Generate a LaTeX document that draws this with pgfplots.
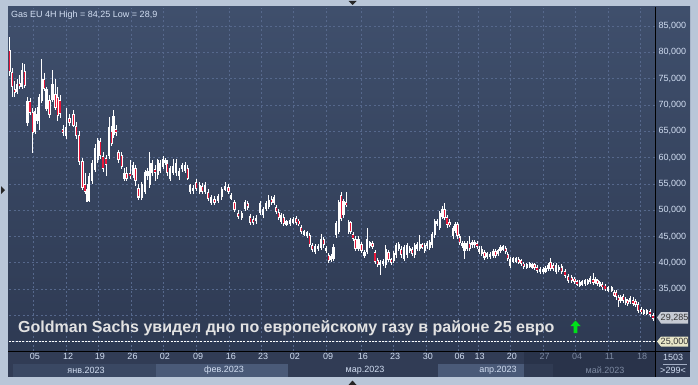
\documentclass[border=0pt]{standalone}
\usepackage{fontspec}
\setmainfont{Liberation Sans}
\usepackage{pgfplots}
\pgfplotsset{compat=1.18}
\usepackage{pgfplotstable}
\definecolor{framec}{HTML}{B9C6D8}
\definecolor{bgtop}{HTML}{3F4F6C}
\definecolor{bgbot}{HTML}{2E3A53}
\definecolor{datebg}{HTML}{313C55}
\definecolor{gridc}{HTML}{56688C}
\definecolor{candred}{HTML}{E8173A}
\definecolor{lbl}{HTML}{D2DEF2}
\definecolor{dimc}{HTML}{7D8AA2}
\definecolor{bandA}{HTML}{3A4863}
\definecolor{bandB}{HTML}{4A5A78}
\definecolor{darkc}{HTML}{29334A}
\definecolor{titlec}{HTML}{E2E2E2}
\definecolor{boxgray}{HTML}{C6CBD4}
\definecolor{boxcream}{HTML}{E8E6C8}
\definecolor{arrowg}{HTML}{00E01A}
\pgfplotstableread{
x o h l c
9.5 80.5 83.0 75.5 76.2
12.2 76.2 77.0 71.5 73.4
14.7 73.0 74.6 71.5 72.4
17.2 72.4 75.0 72.0 74.0
19.7 74.0 75.6 73.0 73.6
22.0 73.5 78.0 73.0 76.7
24.8 76.5 77.8 73.3 73.6
27.4 66.6 71.5 66.0 70.7
30.0 70.7 71.3 68.0 68.4
32.7 68.7 69.5 60.9 64.7
35.3 64.8 69.5 64.5 68.8
37.0 67.0 69.6 66.4 68.2
39.2 67.0 72.0 65.3 71.5
41.7 70.8 78.7 70.3 75.0
44.1 75.0 76.0 72.6 73.0
46.4 69.2 73.5 68.8 73.0
49.6 70.9 71.8 67.6 68.0
52.6 71.0 76.6 70.5 74.0
55.4 72.0 75.0 69.0 69.5
57.7 71.5 73.5 67.0 67.8
60.0 71.0 71.8 67.5 68.2
62.9 65.5 66.2 64.0 64.7
66.0 64.0 69.5 63.6 65.8
69.6 67.5 68.2 66.0 66.6
73.4 68.2 69.0 65.8 66.0
76.3 66.0 66.8 63.5 64.0
79.3 64.2 65.0 58.5 59.1
82.6 59.3 60.0 53.8 54.2
85.0 55.0 57.0 53.0 53.5
87.0 51.6 55.0 51.5 54.0
89.3 51.8 57.0 51.5 56.4
92.0 55.5 59.5 55.0 59.0
95.1 57.7 62.5 57.3 61.8
97.7 59.6 63.8 59.0 63.4
100.2 63.2 63.8 59.8 60.3
103.0 60.3 61.0 57.3 57.8
106.0 60.0 60.5 56.5 58.5
109.3 60.3 67.7 59.8 65.8
111.8 65.0 66.0 62.2 62.6
113.5 64.3 69.0 63.8 67.8
116.0 65.5 66.2 64.0 64.6
118.5 61.0 61.5 59.0 59.5
121.8 60.4 61.0 57.8 58.2
124.5 56.0 58.0 55.5 57.0
126.8 57.0 58.2 55.5 56.0
130.0 57.0 59.5 56.0 56.5
133.0 56.6 59.2 56.2 58.5
135.5 58.0 58.5 54.5 55.5
138.6 54.3 55.0 51.9 52.4
141.7 52.4 55.4 52.0 55.0
145.0 53.4 57.6 53.0 57.2
147.5 56.5 58.0 55.8 57.5
149.7 54.7 61.0 54.3 59.0
152.2 57.0 59.5 56.4 59.0
155.0 57.8 58.5 55.5 57.0
157.8 56.6 59.8 56.0 59.5
160.3 57.5 59.5 57.0 59.0
163.0 58.2 60.2 57.8 59.8
165.4 59.0 60.0 58.5 59.5
167.2 59.0 59.6 56.5 57.0
170.0 56.0 58.4 55.5 58.0
173.3 57.0 59.8 56.6 58.3
176.3 57.0 59.7 56.4 59.0
179.3 56.5 58.0 55.8 57.5
182.2 57.8 59.0 57.3 58.6
185.0 57.5 59.2 57.0 58.6
187.8 58.0 58.6 55.7 56.0
190.3 53.5 55.0 53.0 54.7
193.3 53.6 54.8 53.0 54.3
196.3 55.4 56.0 53.6 54.0
199.7 53.5 55.3 53.0 54.8
202.2 54.6 55.2 53.0 53.5
205.0 53.5 55.3 53.0 54.8
208.3 53.4 54.0 51.8 52.2
211.0 51.4 52.9 51.0 52.5
214.5 52.0 52.6 51.0 51.4
218.3 51.8 53.0 51.3 52.6
221.7 52.5 54.4 52.0 54.0
225.0 54.0 55.3 53.6 54.5
228.5 54.4 55.0 53.0 53.4
231.3 52.2 53.2 51.9 52.8
234.5 51.5 52.0 49.6 50.0
238.3 49.4 50.0 48.4 48.8
241.7 48.6 49.8 48.2 49.4
245.0 50.3 52.0 49.8 51.5
247.8 51.3 51.8 50.0 50.5
250.3 48.8 49.3 47.2 47.6
253.3 48.2 48.8 47.2 47.6
256.3 47.9 49.0 47.4 48.5
260.0 49.4 51.7 49.0 51.3
263.3 49.0 50.6 48.6 50.2
266.3 50.3 51.7 49.9 51.3
268.8 50.6 52.8 50.2 51.9
271.7 52.2 52.6 50.9 51.3
274.2 51.3 52.9 51.0 52.5
276.3 50.6 51.0 49.3 49.7
278.8 49.7 50.2 48.1 48.5
281.3 47.8 49.5 47.4 49.1
283.8 48.7 49.2 47.0 47.4
286.6 47.4 48.2 47.0 47.8
290.0 47.4 48.5 47.0 48.1
293.3 47.7 48.7 47.3 48.3
296.3 48.5 48.9 47.2 47.6
298.8 48.0 48.4 46.9 47.3
301.3 46.8 47.2 45.4 45.8
304.2 45.5 46.2 45.1 45.8
307.0 45.2 46.1 44.8 45.7
309.7 45.2 45.6 43.0 43.4
312.2 43.4 43.8 42.0 42.4
315.0 42.1 43.6 41.7 43.2
318.3 42.6 43.6 42.2 43.2
321.3 42.8 45.5 42.4 44.5
323.8 44.5 44.9 42.9 43.3
326.3 42.2 43.2 41.8 42.8
328.8 41.4 41.8 40.0 40.4
331.2 40.6 41.7 40.2 41.3
333.6 40.8 43.5 40.4 43.0
336.0 45.2 47.9 44.8 47.5
338.8 45.8 51.9 45.4 51.5
341.2 52.8 53.4 48.0 48.4
343.6 49.0 52.2 48.6 51.8
346.3 51.5 53.4 50.6 51.0
348.8 45.8 48.1 45.4 47.7
350.8 47.7 48.0 45.4 45.8
353.0 45.5 45.9 44.2 44.6
355.6 44.6 45.0 42.3 42.7
358.5 42.7 45.0 42.3 44.6
361.6 43.6 44.0 41.9 42.3
364.5 41.4 42.4 41.0 42.0
367.0 42.0 46.6 41.6 44.6
369.7 43.3 44.2 42.9 43.8
372.4 43.8 44.2 42.6 43.0
375.0 42.0 42.4 39.7 40.1
377.7 40.5 40.9 39.2 39.6
380.3 39.6 40.5 37.6 40.1
383.0 39.8 40.7 39.4 40.3
385.7 39.5 43.4 39.1 42.7
388.5 42.0 42.4 40.1 40.5
391.2 40.6 41.0 39.6 40.0
393.7 40.3 42.2 39.9 41.8
396.3 41.4 43.7 41.0 43.3
398.8 42.7 44.0 42.3 43.6
401.3 42.7 43.1 41.0 41.4
404.2 40.8 43.4 40.4 43.0
407.0 41.4 43.7 41.0 43.3
409.7 42.3 43.2 41.9 42.8
412.2 42.6 43.0 41.3 41.7
414.7 41.4 43.7 41.0 43.3
417.2 42.6 44.0 42.2 43.6
419.7 42.6 45.2 42.2 43.6
422.2 43.4 43.8 42.6 43.0
424.7 42.3 43.7 41.9 43.3
427.2 43.1 44.2 42.7 43.8
429.7 42.9 44.4 42.5 44.0
432.2 43.3 45.9 42.9 45.5
434.7 45.2 48.4 44.8 48.0
437.2 47.3 48.4 46.9 48.0
439.7 46.6 49.8 46.2 49.4
442.2 48.7 50.8 48.3 50.3
444.5 50.3 51.4 48.1 48.5
447.0 48.7 49.1 46.7 47.1
449.5 47.7 48.3 46.8 47.2
453.0 45.0 47.0 44.6 46.6
455.5 46.0 47.8 45.6 47.4
457.5 47.4 47.8 44.6 45.0
459.7 45.0 45.4 43.3 43.7
462.2 43.2 44.1 42.8 43.7
464.5 42.3 44.1 40.8 43.7
467.0 42.6 44.1 42.2 43.7
469.7 43.7 45.0 42.2 42.6
472.2 43.3 44.4 42.9 44.0
474.5 43.3 44.4 42.9 44.0
477.0 43.7 44.1 42.6 43.0
479.2 42.0 43.1 41.6 42.7
481.7 41.7 43.1 41.3 42.7
484.5 42.0 42.4 40.6 41.0
487.0 41.2 42.1 40.8 41.7
490.0 41.2 42.0 40.8 41.6
493.0 41.3 42.7 40.9 42.3
495.5 42.3 42.7 40.9 41.3
498.0 41.7 42.7 41.3 42.3
500.5 42.3 43.3 41.9 43.0
503.3 42.6 43.4 42.2 43.0
505.8 42.8 43.2 41.6 42.0
507.8 41.6 42.0 40.3 40.7
510.3 39.4 41.1 39.0 40.7
513.3 40.4 41.1 40.0 40.7
516.3 40.4 41.1 40.0 40.7
518.8 40.7 41.1 39.7 40.1
521.2 40.4 40.8 39.4 39.8
523.7 39.8 40.2 38.8 39.2
526.7 39.2 40.0 38.8 39.6
529.7 39.4 40.1 39.0 39.7
532.2 39.2 40.0 38.8 39.6
534.5 39.6 40.0 38.7 39.1
537.0 39.1 39.5 38.1 38.5
540.0 38.3 39.2 37.9 38.8
543.0 38.3 39.2 37.9 38.8
545.5 38.4 39.3 38.0 38.9
548.0 38.9 40.0 38.5 39.6
550.5 40.1 41.0 38.5 38.9
553.3 39.6 40.0 38.4 38.8
556.3 38.2 39.9 37.8 39.5
558.8 38.6 39.6 38.2 39.2
561.7 39.3 39.7 37.9 38.3
565.0 38.5 38.9 37.1 37.5
568.3 37.4 37.8 36.2 36.6
571.7 37.2 37.6 36.2 36.6
574.5 36.9 37.3 36.0 36.4
577.0 36.4 36.8 35.6 36.0
579.7 35.7 36.7 35.3 36.3
582.2 35.9 36.7 35.5 36.3
585.0 36.0 37.0 35.6 36.6
587.8 36.2 37.0 35.8 36.6
590.3 36.4 37.4 36.0 37.0
593.0 37.0 38.0 35.8 36.2
595.5 36.3 37.2 35.9 36.8
597.5 36.6 37.0 35.6 36.0
599.7 35.8 36.5 35.4 36.1
602.2 36.0 36.4 34.9 35.3
605.0 35.6 36.0 34.6 35.0
608.3 34.8 35.5 34.4 35.1
611.7 34.8 35.5 34.4 35.1
614.2 34.4 34.8 33.4 33.8
616.3 34.4 34.8 33.0 33.4
618.8 33.4 33.8 31.5 32.8
620.8 32.8 33.8 32.4 33.4
623.3 33.6 34.0 32.4 32.8
625.8 32.4 33.4 32.0 33.0
627.8 32.8 33.2 31.8 32.2
630.3 32.6 33.6 32.2 33.2
633.0 33.0 33.4 31.8 32.2
635.5 32.8 33.2 31.6 32.0
638.3 32.2 32.6 30.5 30.9
641.2 31.2 31.6 30.2 30.6
643.7 30.4 31.3 30.0 30.9
646.7 30.4 31.2 30.0 30.8
650.0 30.8 31.2 29.6 30.0
653.0 30.0 30.4 28.9 29.3
}\candles
\begin{document}
\begin{tikzpicture}[x=1pt,y=1pt]
\useasboundingbox (0,0) rectangle (698,-385);
\fill[framec] (0,0) rectangle (698,-385);
\shade[top color=bgtop,bottom color=bgbot] (8,-7) rectangle (690,-351);
\fill[datebg] (8,-351) rectangle (690,-377);
% month bands
\fill[bandA] (13,-364) rectangle (156,-377);
\fill[bandB] (156,-364) rectangle (288,-377);
\fill[bandB] (438,-364) rectangle (524,-377);
\fill[darkc] (524,-351) rectangle (655,-377);
\fill[datebg!85!darkc] (524,-364) rectangle (553,-377);
\begin{axis}[
  at={(9pt,-351pt)}, anchor=south west, scale only axis,
  width=646pt, height=343pt,
  xmin=9, xmax=655, ymin=23.23, ymax=88.42,
  axis line style={draw=none},
  major tick length=0pt,
  grid=major,
  major grid style={gridc, dash pattern=on 2pt off 2.5pt, line width=0.6pt},
  xtick={33.3,66.7,98.3,131,163.3,196.7,229.3,261.7,293.3,326.7,361.3,393.7,426.3,458,478,510.3,543,575.7,608,640.7},
  xticklabels={05,12,19,26,02,09,16,23,02,09,16,23,30,06,13,20,{\color{dimc}27},{\color{dimc}04},{\color{dimc}11},{\color{dimc}18}},
  xticklabel style={font=\fontsize{9}{10}\selectfont, text=lbl, xshift=1.5pt, inner sep=2pt},
  ytick={25,30,...,85},
  yticklabels={{},{},{35,000},{40,000},{45,000},{50,000},{55,000},{60,000},{65,000},{70,000},{75,000},{80,000},{85,000}},
  yticklabel pos=right,
  yticklabel style={font=\fontsize{9}{10}\selectfont, text=lbl, anchor=west, xshift=0pt},
  clip=true,
]
% wicks
\addplot[draw=none, mark=none, forget plot,
  error bars/.cd, y dir=both, y explicit, error mark=none,
  error bar style={draw=white, solid, line width=0.75pt}]
  table[x=x, y expr={(\thisrow{h}+\thisrow{l})/2}, y error expr={(\thisrow{h}-\thisrow{l})/2}] {\candles};
% white bodies
\addplot[draw=none, mark=none, forget plot,
  error bars/.cd, y dir=both, y explicit, error mark=none,
  error bar style={draw=white, solid, line width=2.3pt}]
  table[x=x, y expr={(\thisrow{o}+\thisrow{c})/2}, y error expr={max(abs(\thisrow{o}-\thisrow{c})/2,0.35)}] {\candles};
% red inner of falling candles
\addplot[draw=none, mark=none, forget plot,
  error bars/.cd, y dir=both, y explicit, error mark=none,
  error bar style={draw=candred, solid, line width=1.1pt}]
  table[x=x, y expr={(\thisrow{o}+\thisrow{c})/2}, y error expr={(\thisrow{o}>\thisrow{c})*max((\thisrow{o}-\thisrow{c})/2-0.2,0.2)}] {\candles};
\draw[white, dash pattern=on 2pt off 1.3pt, line width=0.8pt] (axis cs:9,25) -- (axis cs:655,25);
\end{axis}
% separators
\draw[black, line width=0.9pt] (655,-7) -- (655,-377);
\draw[black, line width=0.9pt] (8,-351) -- (690,-351);
% texts
\node[anchor=base west, inner sep=0, font=\fontsize{9}{10}\selectfont, text=lbl] at (11,-17.5) {Gas EU 4H High = 84,25 Low = 28,9};
\node[anchor=base west, inner sep=0, font=\bfseries\fontsize{16}{18}\selectfont, text=titlec] at (18,-332.5) {Goldman Sachs увидел дно по европейскому газу в районе 25 евро};
\fill[arrowg] (575.5,-320.5) -- (580.5,-326) -- (577.3,-326) -- (577.3,-333) -- (573.7,-333) -- (573.7,-326) -- (570.5,-326) -- cycle;
% month labels
\node[font=\fontsize{9}{10}\selectfont, text=lbl] at (86,-370) {янв.2023};
\node[font=\fontsize{9}{10}\selectfont, text=lbl] at (224,-370) {фев.2023};
\node[font=\fontsize{9}{10}\selectfont, text=lbl] at (365,-370) {мар.2023};
\node[font=\fontsize{9}{10}\selectfont, text=lbl] at (498,-370) {апр.2023};
\node[font=\fontsize{9}{10}\selectfont, text=dimc] at (605,-370) {май.2023};
% price boxes
\fill[boxgray] (657,-317.5) -- (661,-312) -- (688,-312) -- (688,-323.5) -- (661,-323.5) -- cycle;
\node[anchor=center, inner sep=0, font=\fontsize{9}{10}\selectfont, text=black!80] at (674.5,-317.8) {29,285};
\fill[boxcream] (657,-341.5) -- (661,-336.5) -- (688,-336.5) -- (688,-346.5) -- (661,-346.5) -- cycle;
\node[anchor=center, inner sep=0, font=\fontsize{9}{10}\selectfont, text=black!80] at (674.5,-341.6) {25,000};
% bottom right counters
\node[font=\fontsize{9}{10}\selectfont, text=lbl] at (673,-357.5) {1503};
\draw[lbl!70!datebg, line width=0.6pt] (663,-364) -- (687,-364);
\node[font=\fontsize{9}{10}\selectfont, text=lbl] at (673,-370.5) {>299<};
% small frame triangles
\fill[black!85] (348.5,-1) -- (356.5,-1) -- (352.5,-5) -- cycle;
\fill[black!85] (1,-186) -- (5,-190) -- (1,-194) -- cycle;
\fill[black!85] (348.5,-385) -- (356.5,-385) -- (352.5,-380.5) -- cycle;
\end{tikzpicture}
\end{document}
